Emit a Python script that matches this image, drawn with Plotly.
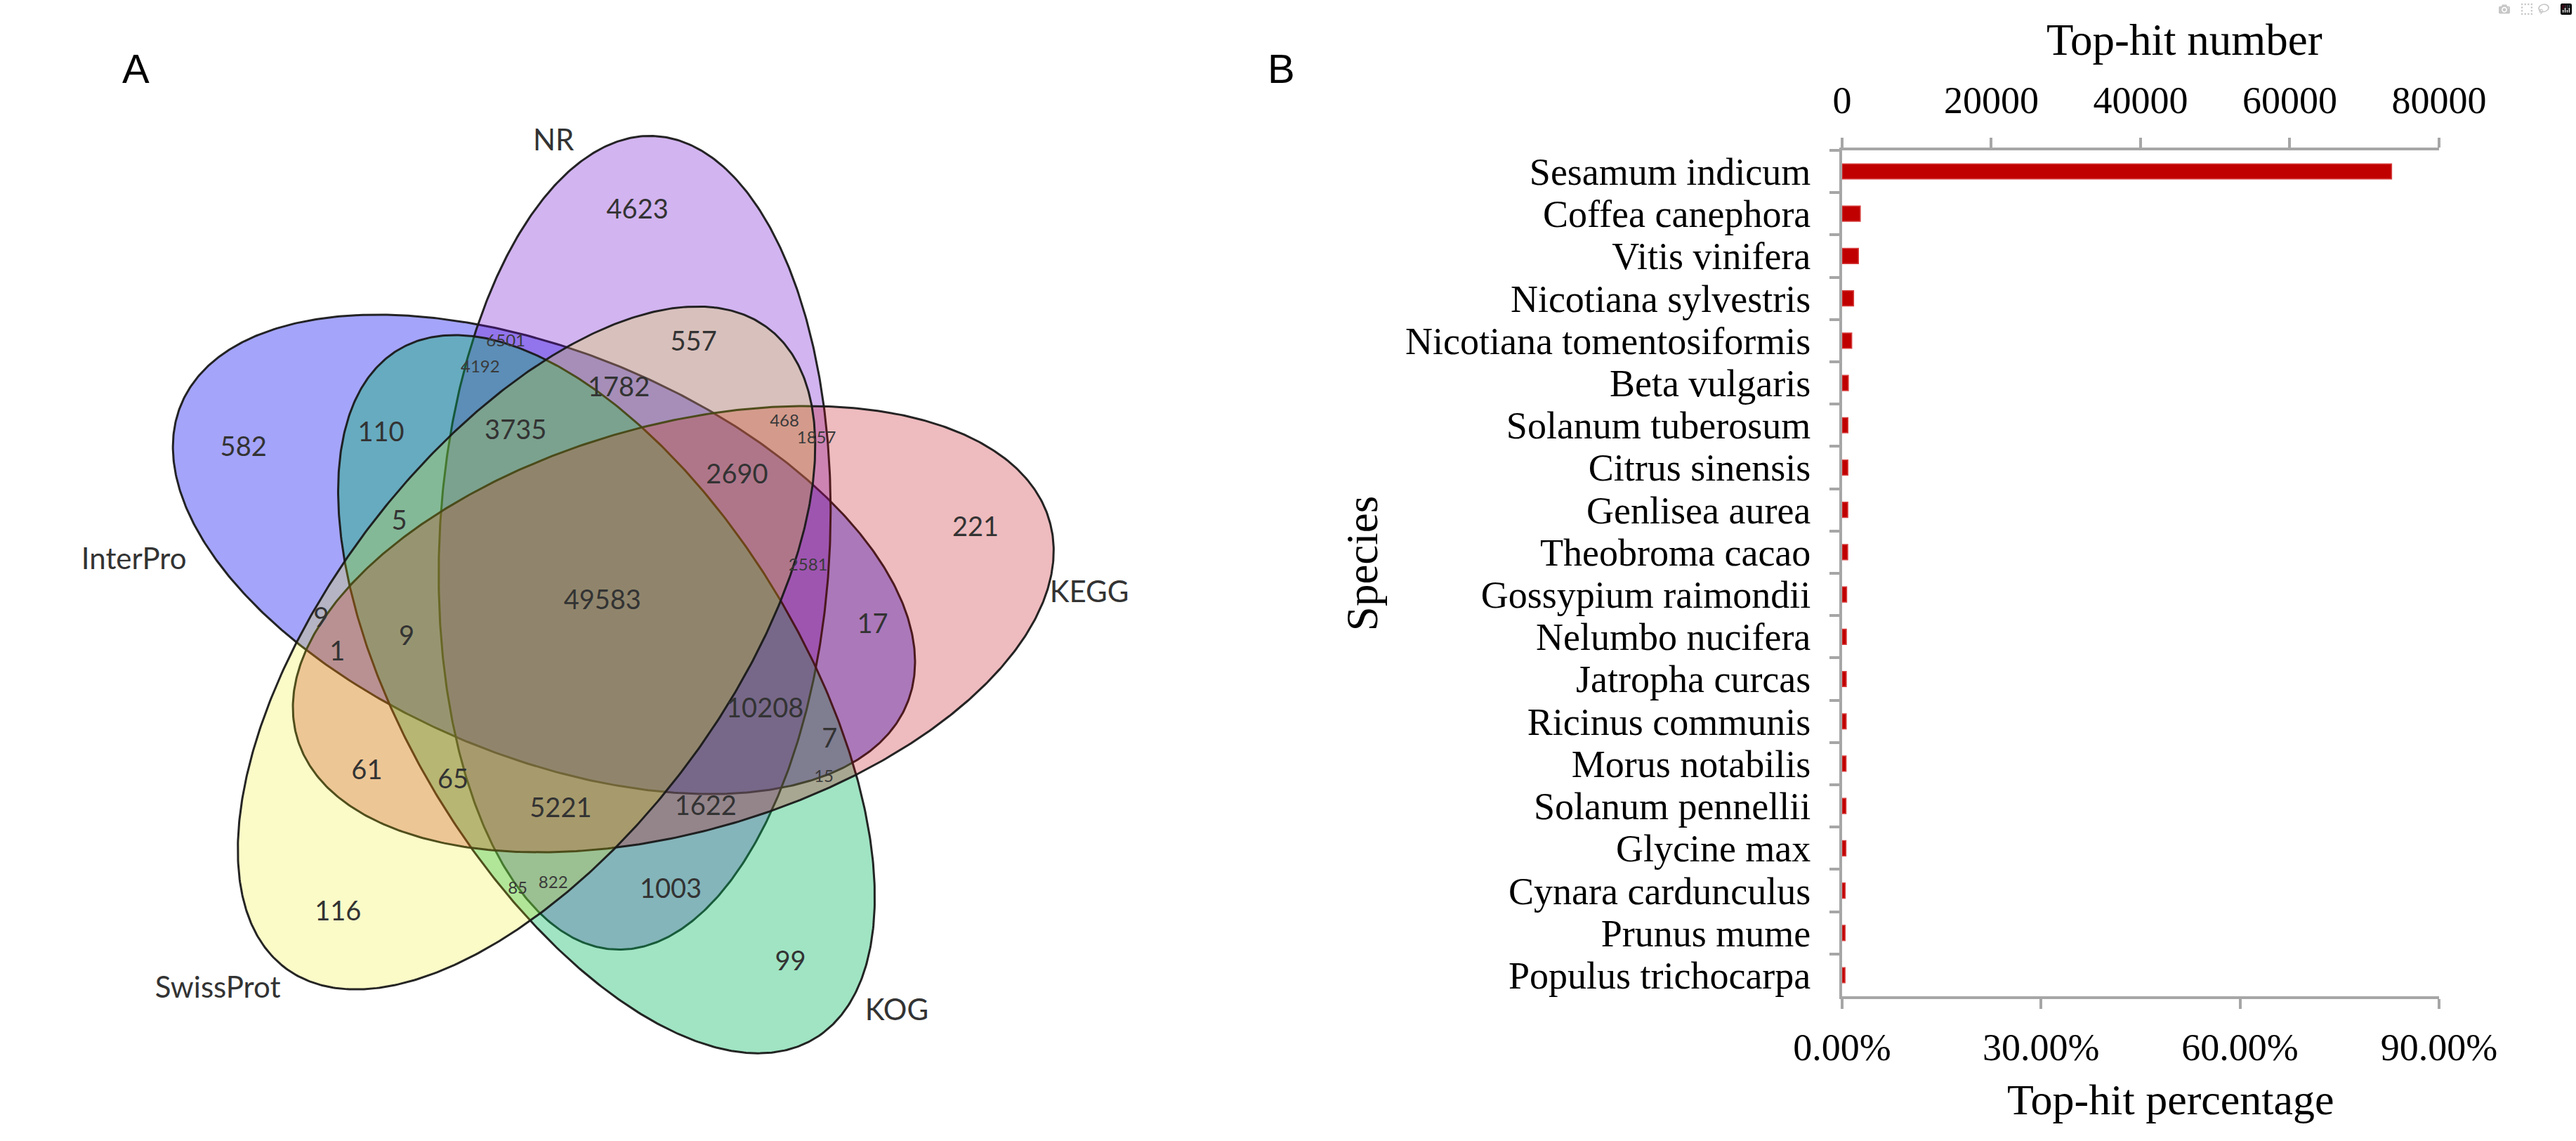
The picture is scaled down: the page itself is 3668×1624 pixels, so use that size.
import numpy as np
import plotly.graph_objects as go

W, H = 3668, 1624

# ======================= DATA =======================
# Panel A: five-set Venn diagram
set_names = ["NR", "KEGG", "KOG", "SwissProt", "InterPro"]
region_sets = [
    "NR", "KEGG", "KOG", "SwissProt", "InterPro",
    "NR&KEGG", "KEGG&KOG", "KOG&SwissProt", "SwissProt&InterPro", "InterPro&NR",
    "NR&KOG", "KEGG&SwissProt", "KOG&InterPro", "SwissProt&NR", "InterPro&KEGG",
    "NR&KEGG&KOG", "KEGG&KOG&SwissProt", "KOG&SwissProt&InterPro",
    "SwissProt&InterPro&NR", "InterPro&NR&KEGG",
    "NR&KEGG&SwissProt", "KEGG&KOG&InterPro", "KOG&SwissProt&NR",
    "SwissProt&InterPro&KEGG", "InterPro&NR&KOG",
    "NR&KEGG&KOG&InterPro", "NR&KEGG&KOG&SwissProt", "KEGG&KOG&SwissProt&InterPro",
    "NR&KOG&SwissProt&InterPro", "NR&KEGG&SwissProt&InterPro",
    "NR&KEGG&KOG&SwissProt&InterPro",
]
region_counts = [
    4623, 221, 99, 116, 582,
    1857, 15, 85, 9, 6501,
    1003, 61, 110, 557, 17,
    1622, 65, 5, 1782, 2581,
    468, 7, 822, 1, 4192,
    10208, 5221, 9, 3735, 2690,
    49583,
]

# Panel B: top-hit species
species = [
    "Sesamum indicum", "Coffea canephora", "Vitis vinifera", "Nicotiana sylvestris",
    "Nicotiana tomentosiformis", "Beta vulgaris", "Solanum tuberosum", "Citrus sinensis",
    "Genlisea aurea", "Theobroma cacao", "Gossypium raimondii", "Nelumbo nucifera",
    "Jatropha curcas", "Ricinus communis", "Morus notabilis", "Solanum pennellii",
    "Glycine max", "Cynara cardunculus", "Prunus mume", "Populus trichocarpa",
]
tophit_number = [73650, 2450, 2200, 1550, 1300, 850, 790, 780, 770, 760,
                 620, 580, 570, 560, 540, 530, 520, 420, 410, 400]
number_ticks = [0, 20000, 40000, 60000, 80000]
percent_ticks = [0.0, 0.30, 0.60, 0.90]

# ======================= STYLE / GEOMETRY =======================
CX, CY = 814.0, 874.0          # rotation centre of the 5-fold layout (px)
SHIFT = 115.5                  # ellipse centre offset from CX,CY
CENTER_ANG0 = -61.0            # angle of first ellipse centre (deg, screen)
LOBE_ANG0 = -87.0              # direction of first ellipse's outer lobe
SEMI_MAJOR, SEMI_MINOR = 580.0, 290.0

set_style = {
    "InterPro": ((3, 3, 241), 0.36),
    "KOG": ((5, 184, 97), 0.38),
    "NR": ((105, 5, 205), 0.30),
    "KEGG": ((192, 3, 14), 0.27),
    "SwissProt": ((235, 235, 5), 0.22),
}
draw_order = ["InterPro", "NR", "KOG", "KEGG", "SwissProt"]

# label placement per symmetric region type: (radius, angle relative to anchor lobe)
orbit_pos = {"one": (575, 3.0), "adj": (410, 49.7), "skip": (410, 161.5),
             "run3": (321, 146.8), "split3": (390, 42.6), "quad": (285, -100.1),
             "all": (18, 23.6)}
small_regions = [{"NR", "KEGG"}, {"KEGG", "KOG"}, {"KOG", "SwissProt"}, {"InterPro", "NR"},
                 {"InterPro", "NR", "KEGG"}, {"NR", "KEGG", "SwissProt"},
                 {"KOG", "SwissProt", "NR"}, {"InterPro", "NR", "KOG"}]
cat_label_pos = {"NR": (673, -8.5), "KEGG": (732, 12.9), "KOG": (722, -5.1),
                 "SwissProt": (778, 7.4), "InterPro": (692, -14.9)}

NUM_FONT = "Lato, Open Sans, sans-serif"
SERIF = "Liberation Serif, Times New Roman, serif"
AX_GRAY = "#A6A6A6"


def orbit_of(members):
    s = {set_names.index(m) for m in members}
    n = len(s)
    if n == 5:
        return "all", 0
    if n == 1:
        return "one", next(iter(s))
    if n == 4:
        return "quad", ({0, 1, 2, 3, 4} - s).pop()
    for k in range(5):
        if n == 2:
            if s == {k, (k + 1) % 5}:
                return "adj", k
            if s == {k, (k + 2) % 5}:
                return "skip", k
        if n == 3:
            if s == {k, (k + 1) % 5, (k + 2) % 5}:
                return "run3", k
            if s == {k, (k + 1) % 5, (k + 3) % 5}:
                return "split3", k
    raise ValueError(members)


def polar(r, ang_deg):
    a = np.deg2rad(ang_deg)
    return CX + r * np.cos(a), CY + r * np.sin(a)


fig = go.Figure()

# ---- ellipses ----
t = np.linspace(0, 2 * np.pi, 600)
for name in draw_order:
    k = set_names.index(name)
    cx, cy = polar(SHIFT, CENTER_ANG0 + 72 * k)
    phi = np.deg2rad(LOBE_ANG0 + 72 * k)
    ux, uy = np.cos(phi), np.sin(phi)
    vx, vy = -uy, ux
    xs = cx + SEMI_MAJOR * np.cos(t) * ux + SEMI_MINOR * np.sin(t) * vx
    ys = cy + SEMI_MAJOR * np.cos(t) * uy + SEMI_MINOR * np.sin(t) * vy
    (r, g, b), a = set_style[name]
    fig.add_trace(go.Scatter(
        x=xs, y=ys, mode="lines", fill="toself",
        fillcolor=f"rgba({r},{g},{b},{a})",
        line=dict(color="rgba(25,25,25,0.95)", width=3),
        hoverinfo="skip", showlegend=False, xaxis="x", yaxis="y"))

# ---- region counts ----
norm = {"x": [], "y": [], "t": []}
small = {"x": [], "y": [], "t": []}
for key, cnt in zip(region_sets, region_counts):
    members = key.split("&")
    kind, k = orbit_of(members)
    r, loc = orbit_pos[kind]
    px, py = polar(r, LOBE_ANG0 + 72 * k + loc)
    bucket = small if set(members) in small_regions else norm
    bucket["x"].append(px)
    bucket["y"].append(py)
    bucket["t"].append(str(cnt))

fig.add_trace(go.Scatter(x=norm["x"], y=norm["y"], text=norm["t"], mode="text",
                         textfont=dict(family=NUM_FONT, size=38, color="#333333"),
                         hoverinfo="skip", showlegend=False, xaxis="x", yaxis="y"))
fig.add_trace(go.Scatter(x=small["x"], y=small["y"], text=small["t"], mode="text",
                         textfont=dict(family=NUM_FONT, size=24, color="#3a3a3a"),
                         hoverinfo="skip", showlegend=False, xaxis="x", yaxis="y"))

# ---- set names ----
cx_l, cy_l, ct_l = [], [], []
for k, name in enumerate(set_names):
    r, loc = cat_label_pos[name]
    px, py = polar(r, LOBE_ANG0 + 72 * k + loc)
    cx_l.append(px)
    cy_l.append(py)
    ct_l.append(name)
fig.add_trace(go.Scatter(x=cx_l, y=cy_l, text=ct_l, mode="text",
                         textfont=dict(family=NUM_FONT, size=42, color="#333333"),
                         hoverinfo="skip", showlegend=False, xaxis="x", yaxis="y"))

# ---- bar chart ----
fig.add_trace(go.Bar(y=species, x=tophit_number, orientation="h", xaxis="x3", yaxis="y2",
                     marker=dict(color="#C00000", line=dict(color="#D84040", width=1.5)),
                     width=0.36, showlegend=False))
fig.add_trace(go.Bar(y=species, x=tophit_number, orientation="h", xaxis="x2", yaxis="y2",
                     opacity=0, width=0.36, hoverinfo="skip", showlegend=False))

max_num = number_ticks[-1]
max_pct = percent_ticks[-1]
bx0, bx1 = 2664, 3551
by0, by1 = 214, 1419

common_x = dict(showline=True, linecolor=AX_GRAY, linewidth=3.5, ticks="outside",
                ticklen=14, tickwidth=3.5, tickcolor=AX_GRAY, showgrid=False,
                zeroline=False, tickfont=dict(family=SERIF, size=54, color="black"),
                range=[0, max_num], fixedrange=True)


def ann(text, px, py, size, family=SERIF, angle=0):
    return dict(text=text, x=px / W, y=1 - py / H, xref="paper", yref="paper",
                xanchor="center", yanchor="middle", showarrow=False, textangle=angle,
                font=dict(family=family, size=size, color="black"))


fig.update_layout(
    width=W, height=H, margin=dict(l=0, r=0, t=0, b=0), autosize=False,
    paper_bgcolor="white", plot_bgcolor="rgba(0,0,0,0)", showlegend=False,
    barmode="overlay",
    xaxis=dict(domain=[0, 1834 / W], range=[0, 1834], visible=False, fixedrange=True),
    yaxis=dict(domain=[0, 1], range=[H, 0], visible=False, fixedrange=True),
    xaxis2=dict(domain=[bx0 / W, bx1 / W], anchor="y2", side="bottom",
                tickmode="array", tickvals=[p * max_num / max_pct for p in percent_ticks],
                ticktext=[f"{p * 100:.2f}%" for p in percent_ticks],
                ticklabelstandoff=8, **common_x),
    xaxis3=dict(overlaying="x2", anchor="y2", side="top", tickmode="array",
                tickvals=number_ticks, ticktext=[str(v) for v in number_ticks],
                ticklabelstandoff=14, **common_x),
    yaxis2=dict(domain=[1 - by1 / H, 1 - by0 / H], anchor="x2", type="category",
                autorange="reversed", tickmode="array", tickvals=species, ticktext=species,
                tickson="boundaries", ticks="outside", ticklen=14,
                tickwidth=3.5, tickcolor=AX_GRAY, showline=True, linecolor=AX_GRAY,
                linewidth=3.5, showgrid=False, zeroline=False, fixedrange=True,
                tickfont=dict(family=SERIF, size=54, color="black"),
                ticklabelstandoff=30),
    annotations=[
        ann("A", 129, 98, 58, family="Liberation Sans, Arial"),
        ann("B", 1831, 98, 58, family="Liberation Sans, Arial"),
        ann("Top-hit number", 3173, 57, 63),
        ann("Top-hit percentage", 3152, 1566, 62),
        ann("Species", 1951, 803, 63, angle=-90),
    ],
)

fig.write_html("out.html",
               post_script="document.body.style.margin='0';document.body.style.overflow='hidden';")
